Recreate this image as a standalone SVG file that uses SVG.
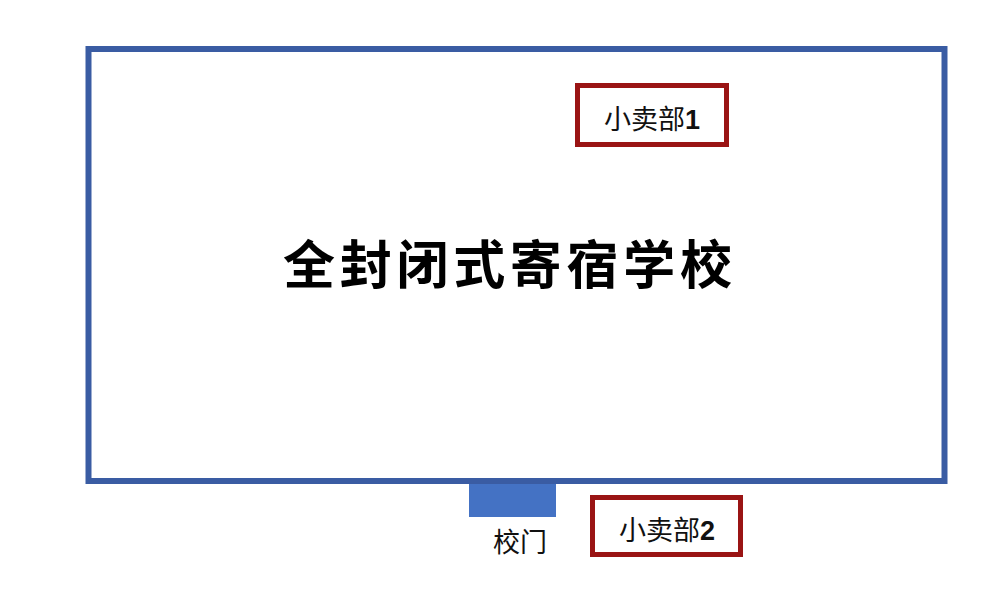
<svg xmlns="http://www.w3.org/2000/svg" width="1000" height="597" viewBox="0 0 1000 597">
<style>
.shop{fill:#ffffff;stroke:#9a1414;stroke-width:5}
.lbl{font-family:"Noto Sans CJK SC","Liberation Sans",sans-serif;font-size:27px;fill:#111111}
.num{font-family:"Liberation Sans",Arial,sans-serif;font-weight:bold}
</style>
<rect width="1000" height="597" fill="#ffffff"/>
<g id="school">
<rect x="88.5" y="49" width="856" height="432" fill="#ffffff" stroke="#3a5ca3" stroke-width="6"/>
<text x="507.5" y="284" text-anchor="middle" textLength="449" lengthAdjust="spacing" font-family="'Noto Sans CJK SC',sans-serif" font-weight="bold" font-size="52" fill="#000000">全封闭式寄宿学校</text>
</g>
<g id="gate">
<rect x="469" y="484" width="87" height="33" fill="#4472c4"/>
<text class="lbl" x="520" y="552" text-anchor="middle">校门</text>
</g>
<g id="shop1">
<rect class="shop" x="577.5" y="85.5" width="149" height="59"/>
<text class="lbl" x="652" y="129" text-anchor="middle">小卖部<tspan class="num">1</tspan></text>
</g>
<g id="shop2">
<rect class="shop" x="592.5" y="497.5" width="148" height="57"/>
<text class="lbl" x="667" y="540" text-anchor="middle">小卖部<tspan class="num">2</tspan></text>
</g>
<g id="connectors"></g>
</svg>
